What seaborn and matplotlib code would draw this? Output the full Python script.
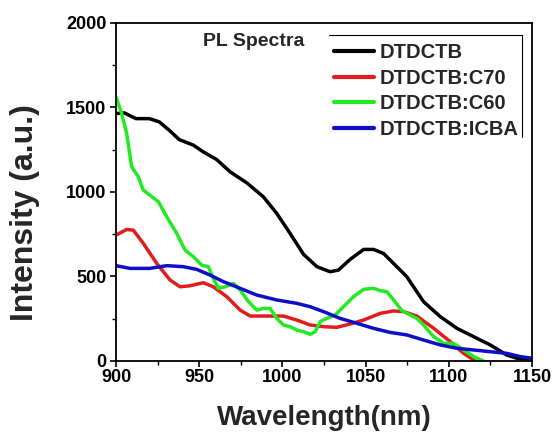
import numpy as np
import pandas as pd
import matplotlib
matplotlib.use("Agg")
import matplotlib.pyplot as plt
from matplotlib.lines import Line2D
import seaborn as sns

# ---- data ----
wl_black = [900, 905, 912, 920, 926, 932, 938, 946.5, 952.5, 960.5, 968.6, 978.6, 988.6, 996.6,
            1004.6, 1012.7, 1020.7, 1028.7, 1033.7, 1040.7, 1048.8, 1054.8, 1060.8, 1066.8, 1074.8,
            1084.8, 1094.9, 1104.9, 1114.9, 1124.9, 1134.9, 1141, 1150]
int_black = [1464, 1468, 1434, 1434, 1415, 1365, 1310, 1277, 1237, 1192, 1119, 1054, 971, 873,
             755, 631, 558, 528, 538, 601, 660, 660, 636, 577, 498,
             351, 262, 193, 144, 95, 35, 16, 10]

wl_c70 = [900, 906.4, 910.4, 916.4, 924.5, 932.5, 938.5, 944.5, 952.5, 958.5, 966.6, 974.6, 980.6,
          990.6, 1000.6, 1008.7, 1016.7, 1024.7, 1032.7, 1040.7, 1048.8, 1058.8, 1066.8, 1072.8,
          1080.8, 1090.9, 1100.9, 1108.9, 1115.9]
int_c70 = [745, 778, 774, 696, 577, 479, 439, 445, 463, 439, 380, 301, 266,
           266, 266, 242, 213, 203, 199, 219, 242, 282, 296, 292,
           266, 193, 114, 45, 0]

wl_c60 = [900, 903.4, 906.4, 909.4, 913.4, 916.4, 920.4, 925.5, 930.5, 936.5, 941.5, 946.5, 951.5,
          955.5, 958.5, 961.5, 965.6, 970.6, 974.6, 979.6, 984.6, 988.6, 992.6, 996.6, 1000.6,
          1004.6, 1008.7, 1012.7, 1016.7, 1019.7, 1022.7, 1026.7, 1031.7, 1036.7, 1042.7, 1048.8,
          1054.8, 1058.8, 1062.8, 1066.8, 1071.8, 1076.8, 1080.8, 1084.8, 1090.9, 1096.9, 1102.9,
          1108.9, 1114.9, 1121.9]
int_c60 = [1563, 1464, 1346, 1149, 1090, 1011, 981, 942, 853, 755, 656, 617, 567,
           558, 489, 430, 439, 459, 420, 351, 301, 311, 311, 252, 213,
           203, 183, 173, 158, 173, 233, 252, 272, 321, 380, 424,
           430, 416, 410, 361, 298, 272, 252, 213, 144, 104, 104,
           65, 26, -5]

wl_icba = [900, 908.4, 920.4, 930.5, 940.5, 948.5, 956.6, 964.6, 974.6, 984.6, 996.6, 1008.7,
           1016.7, 1024.7, 1034.7, 1044.7, 1054.8, 1064.8, 1074.8, 1084.8, 1094.9, 1104.9, 1114.9,
           1124.9, 1134.9, 1142.9, 1150]
int_icba = [564, 548, 548, 564, 558, 542, 508, 469, 430, 390, 361, 341,
            321, 292, 252, 223, 193, 169, 154, 124, 95, 75, 65,
            55, 45, 26, 16]

series_names = ["DTDCTB", "DTDCTB:C70", "DTDCTB:C60", "DTDCTB:ICBA"]
colors = ["#000000", "#e21c1c", "#22ea22", "#0e0ec8"]
x_ticks = [900, 950, 1000, 1050, 1100, 1150]
y_ticks = [0, 500, 1000, 1500, 2000]

frames = []
for name, wl, it in zip(series_names,
                        [wl_black, wl_c70, wl_c60, wl_icba],
                        [int_black, int_c70, int_c60, int_icba]):
    frames.append(pd.DataFrame({"wl": wl, "I": it, "s": name}))
df = pd.concat(frames, ignore_index=True)

sns.set_theme(style="ticks")
plt.rcParams['font.family'] = ['Liberation Sans', 'DejaVu Sans']
plt.rcParams['font.weight'] = 'bold'

fig = plt.figure(figsize=(5.54, 4.32), dpi=100)
ax = fig.add_axes([0.2094, 0.1644, 0.7509, 0.7824])

sns.lineplot(data=df, x="wl", y="I", hue="s", hue_order=series_names,
             palette=dict(zip(series_names, colors)), linewidth=2.5, ax=ax,
             legend=False, sort=False, estimator=None)

ax.set_xlim(900, 1150)
ax.set_ylim(0, 2000)
ax.set_xticks(x_ticks)
ax.set_yticks(y_ticks)
ax.set_xticks([925, 975, 1025, 1075, 1125], minor=True)
ax.set_yticks([250, 750, 1250, 1750], minor=True)
ax.tick_params(axis='both', which='major', direction='out', length=4, width=1.2,
               labelsize=13, color='black', labelcolor='black')
ax.tick_params(axis='x', which='major', pad=1.5)
ax.tick_params(axis='y', which='major', pad=3)
ax.tick_params(axis='both', which='minor', direction='out', length=3, width=1.0, color='black')
for lab in ax.get_xticklabels() + ax.get_yticklabels():
    lab.set_fontweight('bold')
for sp in ax.spines.values():
    sp.set_visible(True)
    sp.set_color('black')
    sp.set_linewidth(1.3)

ax.set_xlabel("Wavelength(nm)", fontsize=20, fontweight='bold', labelpad=14)
ax.set_ylabel("Intensity (a.u.)", fontsize=23, fontweight='bold')
ax.yaxis.set_label_coords(-0.183, 0.44)

handles = [Line2D([], [], color=c, linewidth=3) for c in colors]
leg = ax.legend(handles, series_names, loc='upper left', bbox_to_anchor=(0.524, 0.94),
                frameon=False, prop={'weight': 'bold', 'size': 14.5},
                handlelength=2.0, handletextpad=0.25, labelspacing=0.32, borderaxespad=0,
                borderpad=0)

ax.text(0.209, 0.945, "PL Spectra", transform=ax.transAxes, fontsize=14, fontweight='bold',
        ha='left', va='center')

# partial legend frame (top and right edges)
fig.add_artist(Line2D([329/554, 522/554], [1-35/432, 1-35/432], color='black', linewidth=0.8))
fig.add_artist(Line2D([522/554, 522/554], [1-35/432, 1-137/432], color='black', linewidth=0.8))

fig.savefig("out.png", dpi=100)
